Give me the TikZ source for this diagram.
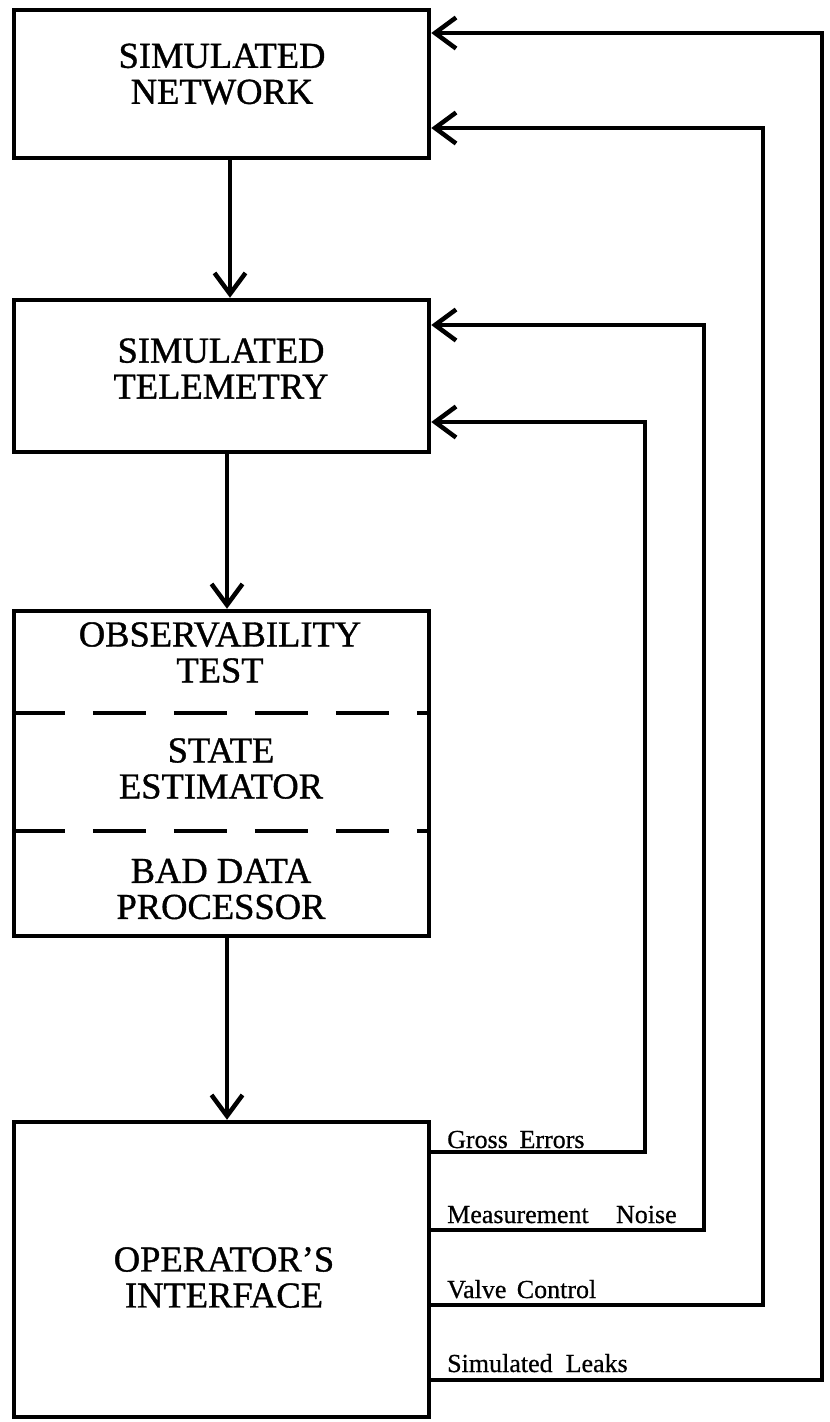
\documentclass[tikz,border=0pt]{standalone}
\usepackage{fontspec}
\setmainfont{Liberation Serif}
\newfontfamily\heavyfont[FakeBold=1.0]{Liberation Serif}
\newfontfamily\labfont[FakeBold=0.6]{Liberation Serif}
\usetikzlibrary{arrows.meta}
\begin{document}
\begin{tikzpicture}[x=1pt,y=-1pt,
  box/.style={draw,line width=4.5pt,minimum width=415pt,inner sep=0pt},
  title/.style={font=\heavyfont\fontsize{36.5}{36}\selectfont,align=center,inner sep=0pt},
  lab/.style={font=\labfont\fontsize{26}{27}\selectfont,anchor=base west,inner sep=0pt},
  arr/.style={line width=4.5pt,line join=miter,-{Straight Barb[length=21pt,width=31pt]}},
  sep/.style={line width=4.5pt,dash pattern=on 53pt off 28pt}]
\useasboundingbox (0,0) rectangle (830,1422);
% boxes
\node[box,minimum height=148pt] (net) at (221.5,84) {};
\node[box,minimum height=152pt] (tel) at (221.5,376) {};
\node[box,minimum height=325pt] (obs) at (221.5,773.5) {};
\node[box,minimum height=295pt] (oi)  at (221.5,1269.5) {};
% texts
\node[title] (netT) at (222,74) {SIMULATED\\NETWORK};
\node[title] (telT) at (221,368.5) {SIMULATED\\TELEMETRY};
\node[title] (obsT) at (220,652.5) {OBSERVABILITY\\TEST};
\node[title] (seT)  at (221,768.5) {STATE\\ESTIMATOR};
\node[title] (bdT)  at (221,889) {BAD DATA\\PROCESSOR};
\node[title] (oiT)  at (224,1277.5) {OPERATOR’S\\INTERFACE};
% dashed separators
\coordinate (d1) at (0,713);
\coordinate (d2) at (0,831);
\draw[sep] (obs.west |- d1) -- (obs.east |- d1);
\draw[sep] (obs.west |- d2) -- (obs.east |- d2);
% downward arrows
\draw[arr] ([xshift=8.5pt]net.south) -- ([xshift=8.5pt]tel.north);
\draw[arr] ([xshift=5.5pt]tel.south) -- ([xshift=5.5pt]obs.north);
\draw[arr] ([xshift=5.5pt]obs.south) -- ([xshift=5.5pt]oi.north);
% feedback corners
\coordinate (ge1) at (645,1152); \coordinate (ge2) at (645,422);
\coordinate (mn1) at (704,1230); \coordinate (mn2) at (704,325);
\coordinate (vc1) at (763,1305); \coordinate (vc2) at (763,128);
\coordinate (sl1) at (822,1380); \coordinate (sl2) at (822,33);
\draw[arr] (oi.east |- ge1) -- (ge1) -- (ge2) -- (tel.east |- ge2);
\draw[arr] (oi.east |- mn1) -- (mn1) -- (mn2) -- (tel.east |- mn2);
\draw[arr] (oi.east |- vc1) -- (vc1) -- (vc2) -- (net.east |- vc2);
\draw[arr] (oi.east |- sl1) -- (sl1) -- (sl2) -- (net.east |- sl2);
% labels
\node[lab] (lge) at (447,1148) {Gross\hspace{0.45em}Errors};
\node[lab] (lmn) at (447,1223) {Measurement\hspace{1.05em}Noise};
\node[lab] (lvc) at (447,1298) {Valve\hspace{0.4em}Control};
\node[lab] (lsl) at (447,1372) {Simulated\hspace{0.5em}Leaks};
\end{tikzpicture}
\end{document}
